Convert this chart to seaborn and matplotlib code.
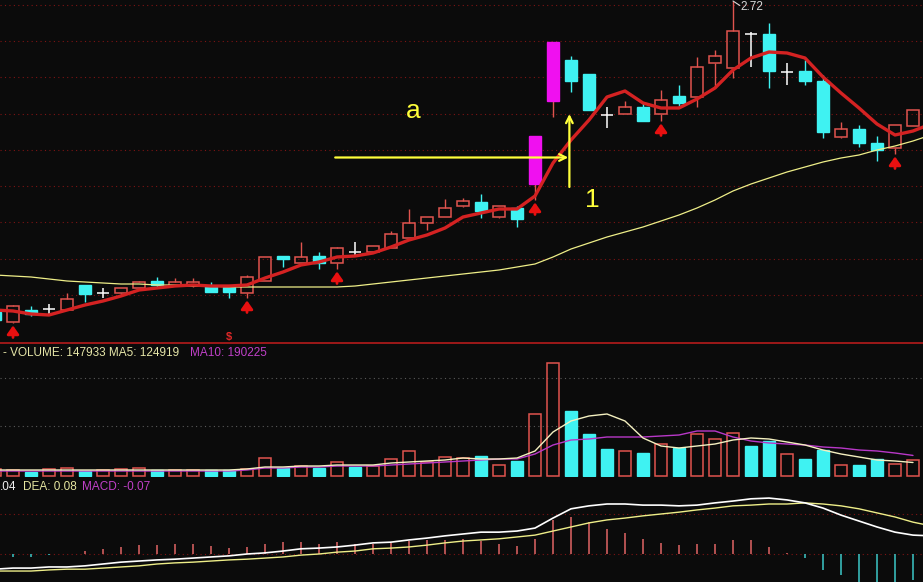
import numpy as np
import pandas as pd
import matplotlib
matplotlib.use("Agg")
import matplotlib.pyplot as plt
import seaborn as sns
from matplotlib.patches import Rectangle

# ---------------- data ----------------
day = list(range(-1, 51))          # candle index (first one partly off-screen)
ma_day = list(range(-1, 52))       # moving-average lines run one step past the edge

open_ = [2.098, 2.078, 2.102, 2.104, 2.102, 2.152, 2.136, 2.136, 2.146, 2.160,
         2.150, 2.150, 2.150, 2.148, 2.136, 2.160, 2.210, 2.196, 2.210, 2.196,
         2.218, 2.218, 2.226, 2.246, 2.276, 2.288, 2.310, 2.318, 2.288, 2.306,
         2.354, 2.520, 2.602, 2.574, 2.492, 2.494, 2.508, 2.494, 2.530, 2.528,
         2.596, 2.586, 2.654, 2.654, 2.578, 2.580, 2.560, 2.448, 2.464, 2.436,
         2.426, 2.470]
high = [2.102, 2.112, 2.110, 2.114, 2.136, 2.152, 2.146, 2.146, 2.160, 2.168,
        2.166, 2.166, 2.158, 2.148, 2.172, 2.208, 2.210, 2.238, 2.218, 2.228,
        2.238, 2.230, 2.260, 2.304, 2.288, 2.324, 2.326, 2.334, 2.310, 2.310,
        2.450, 2.638, 2.610, 2.574, 2.508, 2.520, 2.516, 2.542, 2.552, 2.608,
        2.622, 2.720, 2.658, 2.676, 2.596, 2.602, 2.572, 2.478, 2.472, 2.450,
        2.472, 2.502]
low = [2.078, 2.076, 2.090, 2.092, 2.102, 2.118, 2.126, 2.132, 2.144, 2.148,
       2.150, 2.148, 2.138, 2.126, 2.126, 2.160, 2.188, 2.196, 2.184, 2.184,
       2.208, 2.218, 2.226, 2.246, 2.262, 2.288, 2.308, 2.286, 2.286, 2.268,
       2.322, 2.488, 2.538, 2.502, 2.466, 2.494, 2.480, 2.480, 2.508, 2.508,
       2.546, 2.566, 2.588, 2.546, 2.552, 2.552, 2.446, 2.446, 2.428, 2.400,
       2.414, 2.470]
close = [2.082, 2.110, 2.094, 2.104, 2.124, 2.134, 2.136, 2.146, 2.158, 2.152,
         2.158, 2.158, 2.138, 2.138, 2.168, 2.208, 2.204, 2.208, 2.196, 2.226,
         2.218, 2.230, 2.254, 2.276, 2.288, 2.306, 2.320, 2.300, 2.310, 2.284,
         2.450, 2.638, 2.560, 2.502, 2.492, 2.508, 2.480, 2.522, 2.516, 2.588,
         2.610, 2.660, 2.654, 2.580, 2.578, 2.560, 2.458, 2.464, 2.436, 2.422,
         2.472, 2.502]

ma_short = [2.102, 2.100, 2.094, 2.092, 2.102, 2.112, 2.120, 2.130, 2.142, 2.146,
            2.150, 2.152, 2.150, 2.150, 2.152, 2.166, 2.178, 2.192, 2.198, 2.208,
            2.210, 2.216, 2.228, 2.242, 2.252, 2.266, 2.288, 2.296, 2.304, 2.304,
            2.330, 2.396, 2.442, 2.482, 2.528, 2.540, 2.516, 2.506, 2.506, 2.524,
            2.546, 2.582, 2.606, 2.618, 2.616, 2.606, 2.568, 2.536, 2.506, 2.474,
            2.452, 2.460, 2.474]
ma_long = [2.172, 2.170, 2.168, 2.164, 2.160, 2.158, 2.156, 2.154, 2.154, 2.152,
           2.152, 2.150, 2.150, 2.148, 2.148, 2.148, 2.148, 2.148, 2.148, 2.148,
           2.150, 2.154, 2.158, 2.162, 2.166, 2.170, 2.174, 2.178, 2.182, 2.188,
           2.194, 2.208, 2.224, 2.236, 2.248, 2.258, 2.268, 2.280, 2.292, 2.306,
           2.322, 2.340, 2.354, 2.366, 2.378, 2.388, 2.398, 2.406, 2.412, 2.422,
           2.430, 2.440, 2.452]

limit_up_days = [29, 30]
signal_days = [0, 13, 18, 29, 36, 49]
high_label = "2.72"

volume = [65000, 55000, 37000, 65000, 74000, 46000, 55000, 65000, 74000, 55000,
          55000, 55000, 55000, 55000, 65000, 166000, 74000, 92000, 74000, 130000,
          83000, 92000, 157000, 231000, 130000, 176000, 166000, 185000, 102000, 139000,
          574000, 1045000, 601000, 389000, 250000, 231000, 213000, 296000, 259000, 389000,
          342000, 398000, 278000, 324000, 204000, 157000, 241000, 102000, 102000, 157000,
          111000, 147933]
vol_dir = list("uuduuduuud" "uudduududu" "duuuuuudud" "uudddududu" "uudduddudd" "uu")
vol_ma5 = [55500] * 14 + [64750, 83250, 83250, 92500, 92500, 101750, 101750, 101750,
                          120250, 129500, 138750, 148000, 166500, 157250, 157250, 166500,
                          231250, 407000, 508750, 555000, 573500, 508750, 351500, 277500,
                          259000, 277500, 296000, 333000, 351500, 342250, 314500, 286750,
                          240500, 203500, 175750, 148000, 138750, 124919]
vol_ma10 = [46000] * 14 + [55500, 74000, 74000, 83250, 83250, 92500, 92500, 92500,
                           101750, 111000, 120250, 129500, 138750, 148000, 157250, 157250,
                           203500, 286750, 333000, 342250, 360750, 360750, 360750, 370000,
                           379250, 416250, 416250, 360750, 323750, 305250, 296000, 286750,
                           268250, 259000, 240500, 231250, 212750, 190225]

macd_hist = [-0.005, -0.008, -0.008, -0.003, 0.001, 0.008, 0.014, 0.019, 0.024, 0.024,
             0.027, 0.027, 0.022, 0.016, 0.019, 0.027, 0.032, 0.032, 0.027, 0.032,
             0.027, 0.027, 0.030, 0.035, 0.038, 0.038, 0.041, 0.035, 0.027, 0.022,
             0.041, 0.092, 0.100, 0.086, 0.068, 0.057, 0.041, 0.030, 0.024, 0.027,
             0.027, 0.038, 0.038, 0.019, 0.003, -0.011, -0.043, -0.057, -0.081, -0.081,
             -0.081, -0.070]
dif = [-0.041, -0.038, -0.038, -0.035, -0.035, -0.032, -0.027, -0.022, -0.019, -0.016,
       -0.014, -0.011, -0.008, -0.005, 0.000, 0.003, 0.008, 0.014, 0.016, 0.019,
       0.024, 0.030, 0.032, 0.038, 0.043, 0.049, 0.054, 0.059, 0.059, 0.062,
       0.070, 0.097, 0.122, 0.130, 0.135, 0.135, 0.132, 0.132, 0.130, 0.132,
       0.138, 0.143, 0.149, 0.151, 0.146, 0.138, 0.124, 0.105, 0.089, 0.073,
       0.059, 0.051, 0.049]
dea = [-0.046, -0.046, -0.046, -0.043, -0.041, -0.041, -0.038, -0.035, -0.032, -0.027,
       -0.024, -0.022, -0.019, -0.016, -0.014, -0.011, -0.008, -0.003, 0.000, 0.005,
       0.008, 0.014, 0.016, 0.019, 0.024, 0.030, 0.035, 0.038, 0.041, 0.046,
       0.051, 0.062, 0.073, 0.084, 0.092, 0.097, 0.103, 0.108, 0.113, 0.119,
       0.124, 0.130, 0.132, 0.135, 0.135, 0.138, 0.135, 0.130, 0.122, 0.111,
       0.100, 0.086, 0.076]

vol_legend = "- VOLUME: 147933 MA5: 124919"
vol_legend_ma10 = "MA10: 190225"
macd_legend = [".04", "DEA: 0.08", "MACD: -0.07"]

# ---------------- style ----------------
BG = "#0b0b0b"
RED = "#E0544E"
CYAN = "#3FF2F2"
MAG = "#F010F0"
MA_RED = "#D42222"
MA_YEL = "#EEEE88"
ANN = "#FFFF3A"
GRID_RED = "#7E1414"

sns.set_theme(style="dark", rc={"axes.facecolor": BG, "figure.facecolor": BG,
                                "savefig.facecolor": BG})
plt.rcParams["font.family"] = ["Liberation Sans", "DejaVu Sans"]

W, H = 923, 582
fig = plt.figure(figsize=(W / 100, H / 100), dpi=100)

def px_axes(top, bottom):
    return fig.add_axes([0, 1 - bottom / H, 1, (bottom - top) / H])

ax_p = px_axes(0, 343)
ax_v = px_axes(344, 477)
ax_m = px_axes(478, 582)

xlim = (-(13 / 18), (W - 13) / 18)
for a in (ax_p, ax_v, ax_m):
    a.set_facecolor(BG)
    a.set_xlim(*xlim)
    a.set_xticks([]); a.set_yticks([])
    for s in a.spines.values():
        s.set_visible(False)
    a.grid(False)

ax_p.spines["bottom"].set_visible(True)
ax_p.spines["bottom"].set_color("#A81A1A")
ax_p.spines["bottom"].set_linewidth(1.3)

# ---------------- price panel ----------------
ax_p.set_ylim(2.036, 2.722)
for k in range(9):
    ax_p.axhline(2.712 - 0.0725 * k, color=GRID_RED, lw=0.8, ls=(0, (1, 3)), zorder=0)

w = 0.69
for d, o, h, l, c in zip(day, open_, high, low, close):
    if abs(c - o) < 1e-9:
        ax_p.vlines(d, l, h, color="white", lw=1.1, zorder=2)
        ax_p.hlines(o, d - w / 2, d + w / 2, color="white", lw=1.1, zorder=2)
    elif d in limit_up_days:
        ax_p.vlines(d, l, h, color=RED, lw=1.0, zorder=2)
        ax_p.add_patch(Rectangle((d - w / 2, o), w, c - o, facecolor=MAG,
                                 edgecolor=MAG, lw=1, zorder=2))
    elif c > o:
        ax_p.vlines(d, c, h, color=RED, lw=1.0, zorder=2)
        ax_p.vlines(d, l, o, color=RED, lw=1.0, zorder=2)
        ax_p.add_patch(Rectangle((d - w / 2, o), w, c - o, facecolor="none",
                                 edgecolor=RED, lw=1.1, zorder=2))
    else:
        ax_p.vlines(d, l, h, color=CYAN, lw=1.0, zorder=2)
        ax_p.add_patch(Rectangle((d - w / 2, c), w, o - c, facecolor=CYAN,
                                 edgecolor=CYAN, lw=1, zorder=2))

sns.lineplot(x=ma_day, y=ma_long, ax=ax_p, color=MA_YEL, lw=0.9, zorder=3)
sns.lineplot(x=ma_day, y=ma_short, ax=ax_p, color=MA_RED, lw=2.4, zorder=4)

low_by_day = dict(zip(day, low))
for d in signal_days:
    lo = low_by_day[d]
    ax_p.annotate("", xy=(d, lo - 0.005), xytext=(d, lo - 0.029),
                  arrowprops=dict(arrowstyle="-|>,head_length=0.5,head_width=0.35",
                                  color="#E81010", lw=2.0,
                                  mutation_scale=10, shrinkA=0, shrinkB=0), zorder=5)

# highest price marker
top_day = day[int(np.argmax(high))]
ax_p.plot([top_day, top_day + 0.38], [max(high), 2.711], color="#D8D8D8", lw=0.8, zorder=5)
ax_p.text(top_day + 0.42, 2.7085, high_label, color="#D8D8D8", fontsize=8.5,
          va="center", ha="left", zorder=5)

ax_p.text(12, 2.049, "$", color="#E02828", fontsize=8, fontweight="bold",
          ha="center", va="center", zorder=5)

# annotations
ax_p.annotate("", xy=(30.85, 2.407), xytext=(17.9, 2.407),
              arrowprops=dict(arrowstyle="->", color=ANN, lw=1.6, mutation_scale=12,
                              shrinkA=0, shrinkB=0), zorder=6)
ax_p.annotate("", xy=(30.91, 2.494), xytext=(30.91, 2.348),
              arrowprops=dict(arrowstyle="->", color=ANN, lw=1.6, mutation_scale=12,
                              shrinkA=0, shrinkB=0), zorder=6)
ax_p.text(22.25, 2.4855, "a", color=ANN, fontsize=19, ha="center", va="baseline", zorder=6)
ax_p.text(32.2, 2.3086, "1", color=ANN, fontsize=19, ha="center", va="baseline", zorder=6)

# ---------------- volume panel ----------------
ax_v.set_ylim(-9250, 1221000)
for g in (906500, 462500):
    ax_v.axhline(g, color="#5a5a5a", lw=0.8, ls=(0, (1, 3)), zorder=0)
for d, v, s in zip(day, volume, vol_dir):
    if s == "u":
        ax_v.add_patch(Rectangle((d - w / 2, 0), w, v, facecolor="none",
                                 edgecolor=RED, lw=1.1, zorder=2))
    else:
        ax_v.add_patch(Rectangle((d - w / 2, 0), w, v, facecolor=CYAN,
                                 edgecolor=CYAN, lw=1, zorder=2))
sns.lineplot(x=day, y=vol_ma10, ax=ax_v, color="#B838C8", lw=1.0, zorder=3)
sns.lineplot(x=day, y=vol_ma5, ax=ax_v, color="#F4F0C0", lw=1.0, zorder=4)

# ---------------- MACD panel ----------------
ax_m.set_ylim(-0.0756, 0.2052)
for g in (0.108, 0.0):
    ax_m.axhline(g, color=GRID_RED, lw=0.8, ls=(0, (1, 3)), zorder=0)
for d, m in zip(day, macd_hist):
    ax_m.vlines(d, 0, m, color=("#E06464" if m >= 0 else "#3CC8C8"), lw=1.1, zorder=2)
sns.lineplot(x=ma_day, y=dea, ax=ax_m, color=MA_YEL, lw=1.0, zorder=3)
sns.lineplot(x=ma_day, y=dif, ax=ax_m, color="white", lw=1.2, zorder=4)

# ---------------- legends ----------------
def ftxt(x, y, s, color, size=8.5):
    fig.text(x / W, 1 - y / H, s, color=color, fontsize=size, ha="left", va="baseline")

ftxt(3, 356.5, vol_legend, "#E6E6A8")
ftxt(190.5, 356.5, vol_legend_ma10, "#C040C8")
ftxt(0, 490, macd_legend[0], "#F0F0F0")
ftxt(22.7, 490, macd_legend[1], "#E6E6A0")
ftxt(81.7, 490, macd_legend[2], "#C040C8")

fig.savefig("out.png", dpi=100, facecolor=BG)
